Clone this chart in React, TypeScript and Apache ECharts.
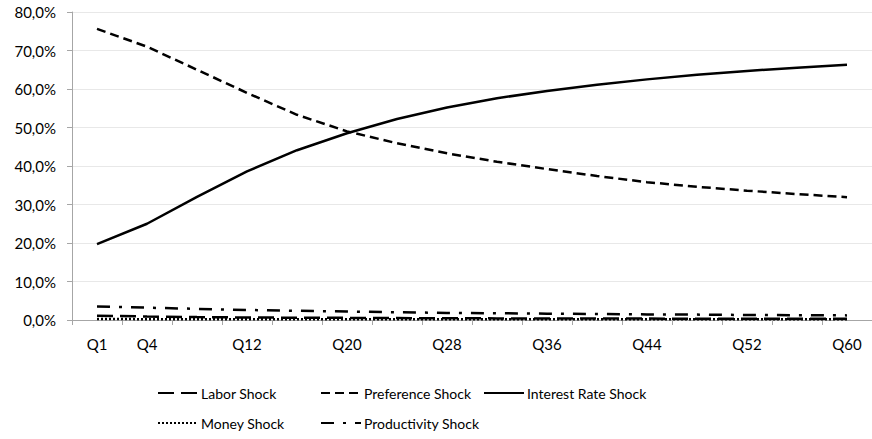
import React, { useEffect, useRef } from "react";
import * as echarts from "echarts";

const categories = ["Q1", "Q4", "Q8", "Q12", "Q16", "Q20", "Q24", "Q28", "Q32", "Q36", "Q40", "Q44", "Q48", "Q52", "Q56", "Q60"];
const laborShock = [1.1, 0.9, 0.75, 0.65, 0.6, 0.55, 0.5, 0.45, 0.42, 0.4, 0.38, 0.36, 0.34, 0.32, 0.3, 0.3];
const preferenceShock = [75.6, 71.0, 65.0, 59.0, 53.3, 49.0, 45.9, 43.3, 41.1, 39.2, 37.4, 35.8, 34.6, 33.6, 32.7, 31.9];
const interestRateShock = [19.7, 25.0, 32.0, 38.6, 44.1, 48.5, 52.2, 55.2, 57.6, 59.5, 61.1, 62.5, 63.7, 64.7, 65.5, 66.3];
const moneyShock = [0.25, 0.22, 0.2, 0.2, 0.2, 0.2, 0.2, 0.2, 0.2, 0.2, 0.2, 0.2, 0.2, 0.2, 0.2, 0.2];
const productivityShock = [3.5, 3.2, 2.9, 2.6, 2.4, 2.2, 2.0, 1.85, 1.75, 1.65, 1.55, 1.45, 1.4, 1.3, 1.25, 1.2];
const yTicks = [0, 10, 20, 30, 40, 50, 60, 70, 80];

const FONT = "Lato";

export default function App() {
  const ref = useRef<HTMLDivElement>(null);
  useEffect(() => {
    if (!ref.current) return;
    const chart = echarts.init(ref.current, null, { renderer: "svg" });
    const mk = (name: string, data: number[], type: any, width = 2.5) => ({
      name,
      type: "line",
      data,
      symbol: "none",
      lineStyle: { color: "#000", width, type },
      itemStyle: { color: "#000" },
    });
    const legendBase = {
      itemWidth: 40,
      itemHeight: 12,
      itemStyle: { opacity: 0 },
      textStyle: { fontFamily: FONT, fontSize: 14, color: "#000", padding: [0, 0, 0, -2] },
    };
    chart.setOption({
      animation: false,
      backgroundColor: "#fff",
      grid: { left: 72, top: 12, right: -5, bottom: 119, containLabel: false },
      xAxis: {
        type: "category",
        data: categories,
        boundaryGap: true,
        axisLine: { lineStyle: { color: "#a6a6a6", width: 1 } },
        axisTick: { show: true, interval: 0, length: 5, lineStyle: { color: "#a6a6a6" } },
        axisLabel: {
          interval: (i: number) => i === 0 || i % 2 === 1,
          fontFamily: FONT,
          fontSize: 15,
          color: "#000",
          margin: 16,
        },
        splitLine: { show: false },
      },
      yAxis: {
        type: "value",
        min: yTicks[0],
        max: yTicks[yTicks.length - 1],
        interval: 10,
        axisLine: { show: true, lineStyle: { color: "#a6a6a6", width: 1 } },
        axisTick: { show: true, length: 5, lineStyle: { color: "#a6a6a6" } },
        axisLabel: {
          fontFamily: FONT,
          fontSize: 15,
          color: "#000",
          margin: 16,
          formatter: (v: number) => v.toFixed(1).replace(".", ",") + "%",
        },
        splitLine: { show: true, lineStyle: { color: "#e8e8e8", width: 1 } },
      },
      legend: [
        { ...legendBase, left: 152, top: 381, data: ["Labor Shock"] },
        { ...legendBase, left: 315, top: 381, data: ["Preference Shock"] },
        { ...legendBase, left: 478, top: 381, data: ["Interest Rate Shock"] },
        { ...legendBase, left: 152, top: 411, data: ["Money Shock"] },
        { ...legendBase, left: 315, top: 411, data: ["Productivity Shock"] },
      ],
      series: [
        mk("Labor Shock", laborShock, [16, 7]),
        mk("Preference Shock", preferenceShock, [9, 5]),
        mk("Interest Rate Shock", interestRateShock, "solid"),
        mk("Money Shock", moneyShock, [2, 2]),
        mk("Productivity Shock", productivityShock, [13, 9, 3, 9]),
      ],
    });
    return () => chart.dispose();
  }, []);
  return (
    <div
      ref={ref}
      style={{ position: "fixed", left: 0, top: 0, width: 872, height: 439, background: "#fff" }}
    />
  );
}
